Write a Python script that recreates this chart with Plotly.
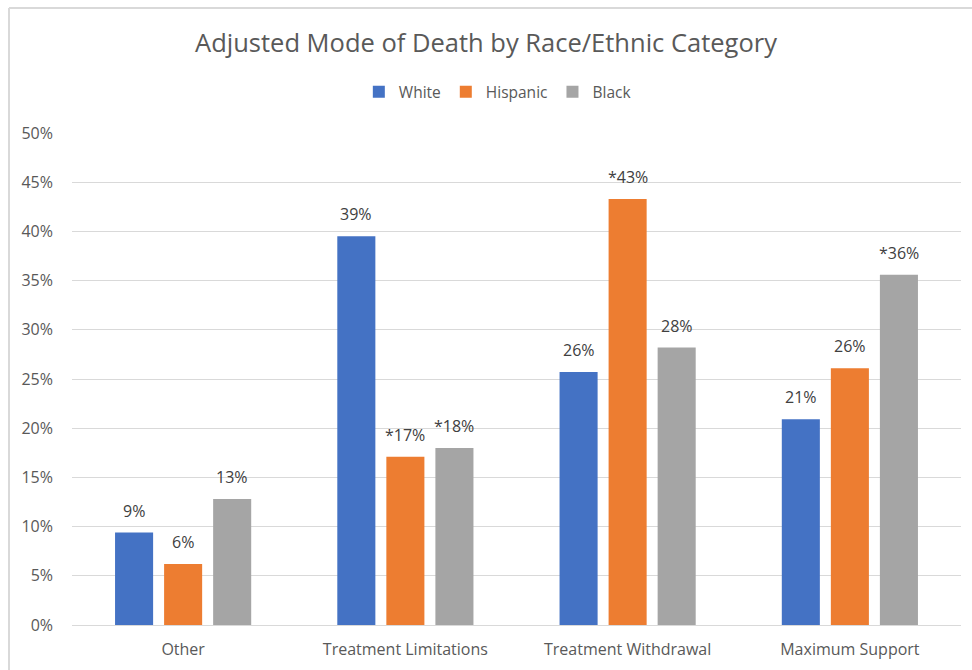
import plotly.graph_objects as go

categories = ["Other", "Treatment Limitations", "Treatment Withdrawal", "Maximum Support"]
white = [9.4, 39.5, 25.7, 20.9]
hispanic = [6.2, 17.1, 43.3, 26.1]
black = [12.8, 18.0, 28.2, 35.6]
white_labels = ["9%", "39%", "26%", "21%"]
hispanic_labels = ["6%", "*17%", "*43%", "26%"]
black_labels = ["13%", "*18%", "28%", "*36%"]
y_ticks = [0, 5, 10, 15, 20, 25, 30, 35, 40, 45, 50]
y_tick_labels = [f"{v}%" for v in y_ticks]

FONT = "Open Sans"
TXT = "#595959"

series = [
    ("White", white, white_labels, "#4472C4"),
    ("Hispanic", hispanic, hispanic_labels, "#ED7D31"),
    ("Black", black, black_labels, "#A5A5A5"),
]

fig = go.Figure()
for name, vals, labs, col in series:
    fig.add_trace(go.Bar(
        name=name, x=categories, y=vals,
        marker=dict(color=col, line=dict(width=0)),
    ))

# data labels as annotations (offset per series within the group)
slot_px = 49
for i, (name, vals, labs, col) in enumerate(series):
    for c, v, t in zip(categories, vals, labs):
        fig.add_annotation(x=c, y=v, text=t, showarrow=False,
                           xshift=(i - 1) * slot_px, yshift=9,
                           yanchor="bottom", xanchor="center",
                           font=dict(family=FONT, size=16, color="#404040"))

fig.update_layout(
    width=972, height=670,
    paper_bgcolor="white", plot_bgcolor="white",
    margin=dict(l=72, r=11, t=133, b=45),
    barmode="group", bargap=0.338, bargroupgap=0.224,
    title=dict(text="Adjusted Mode of Death by Race/Ethnic Category",
               x=0.5, xanchor="center", y=0.935, yanchor="middle",
               font=dict(family=FONT, size=25.5, color=TXT)),
    legend=dict(orientation="h", x=0.479, xanchor="center", y=1.083, yanchor="middle",
                font=dict(family=FONT, size=15.5, color=TXT),
                itemwidth=30, traceorder="normal"),
    showlegend=True,
)
fig.update_xaxes(showgrid=False, showline=True, linecolor="#d9d9d9", linewidth=1,
                 ticks="", ticklabelstandoff=10,
                 tickfont=dict(family=FONT, size=16, color=TXT))
fig.update_yaxes(range=[0, 50], tickvals=y_ticks, ticktext=y_tick_labels,
                 showgrid=True, gridcolor="#d9d9d9", gridwidth=1, zeroline=False,
                 showline=False, ticks="", ticklabelstandoff=18,
                 tickfont=dict(family=FONT, size=16, color=TXT))

# chart outer border
fig.add_shape(type="line", xref="paper", yref="paper",
              x0=(9 - 72) / 889, x1=1.02, y0=(625 - 8) / 492, y1=(625 - 8) / 492,
              line=dict(color="#d9d9d9", width=2))
fig.add_shape(type="line", xref="paper", yref="paper",
              x0=(9 - 72) / 889, x1=(9 - 72) / 889, y0=(625 - 8) / 492, y1=-0.2,
              line=dict(color="#d9d9d9", width=2))

fig.write_html("out.html", config={"displayModeBar": False},
               post_script="document.body.style.margin='0px';document.body.style.overflow='hidden';")
